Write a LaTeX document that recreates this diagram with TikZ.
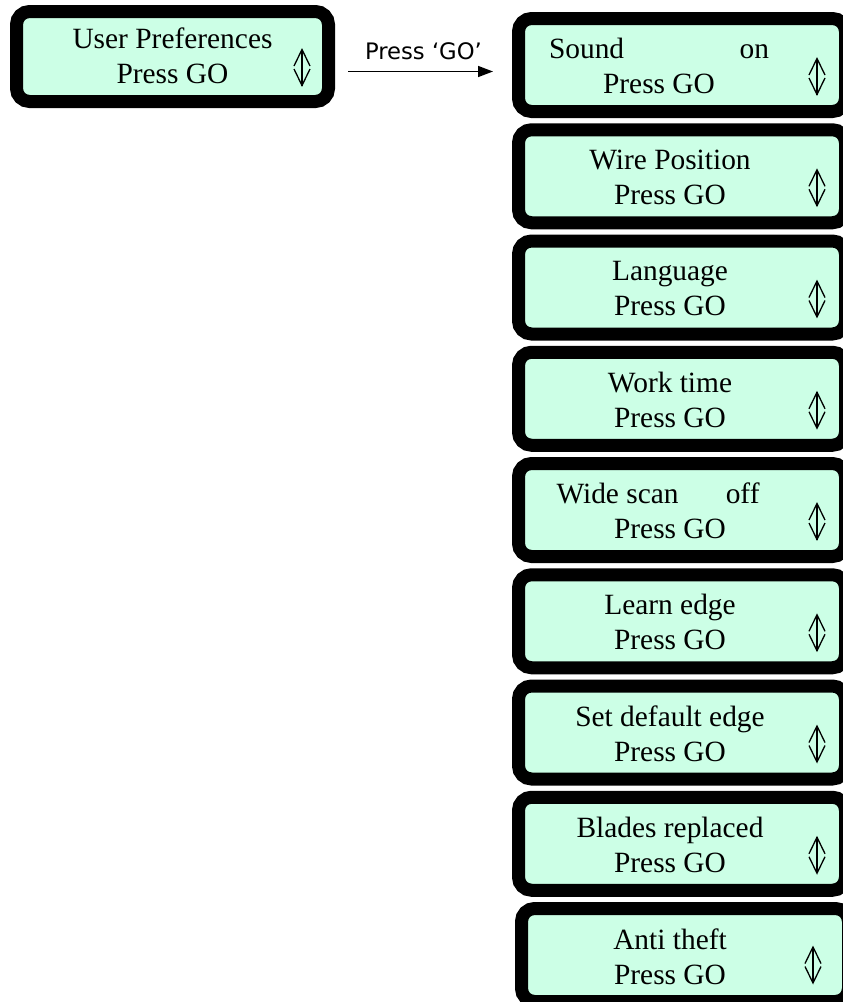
\documentclass[tikz,border=0pt]{standalone}
\usepackage{fontspec}
\setmainfont{Liberation Serif}
\newfontfamily\arrowfont{DejaVu Sans}
\usetikzlibrary{arrows.meta}
\definecolor{lcdgreen}{RGB}{204,255,230}
\tikzset{
  lcd/.style={draw=black, line width=13pt, fill=lcdgreen, rounded corners=13pt,
    minimum width=327pt, minimum height=93pt, inner sep=0pt},
  msg/.style={align=center, inner sep=0pt, font=\fontsize{29.4}{35}\selectfont},
  updown/.pic={
    \draw[line width=1.3pt] (0,-18) -- (0,18);
    \draw[line width=1.3pt] (-8,-1.5) -- (0,-18) -- (8,-1.5);
    \draw[line width=1.3pt] (-8,1.5) -- (0,18) -- (8,1.5);
  }
}
\begin{document}
\begin{tikzpicture}[x=1pt,y=-1pt]
\path[use as bounding box,clip] (0,0) rectangle (843,1002);
% start screen
\node[lcd,minimum width=312pt,minimum height=90pt] (prefs) at (172.5,56.5) {};
\node[msg] (prefstxt) at ([shift={(0,-1)}]prefs.center) {User Preferences\\Press GO};
\pic at ([shift={(129.5,11)}]prefs.center) {updown};
% menu screens
\node[lcd] (sound) at (682,65) {};
\node[lcd] (wire) at (682,176.25) {};
\node[lcd] (lang) at (682,287.5) {};
\node[lcd] (work) at (682,398.75) {};
\node[lcd] (scan) at (682,510) {};
\node[lcd] (learn) at (682,621.25) {};
\node[lcd] (defedge) at (682,732.5) {};
\node[lcd] (blades) at (682,843.75) {};
\node[lcd] (theft) at (685,955) {};
\node[msg] (soundtxt) at ([shift={(-23,1)}]sound.center) {\makebox[220pt]{Sound\hfill on}\\Press GO};
\node[msg] (wiretxt) at ([shift={(-12,1)}]wire.center) {Wire Position\\Press GO};
\node[msg] (langtxt) at ([shift={(-12,1)}]lang.center) {Language\\Press GO};
\node[msg] (worktxt) at ([shift={(-12,1)}]work.center) {Work time\\Press GO};
\node[msg] (scantxt) at ([shift={(-12,1)}]scan.center) {\makebox[227pt][l]{\makebox[203pt]{Wide scan\hfill off}}\\Press GO};
\node[msg] (learntxt) at ([shift={(-12,1)}]learn.center) {Learn edge\\Press GO};
\node[msg] (defedgetxt) at ([shift={(-12,1)}]defedge.center) {Set default edge\\Press GO};
\node[msg] (bladestxt) at ([shift={(-12,1)}]blades.center) {Blades replaced\\Press GO};
\node[msg] (thefttxt) at ([shift={(-15,2)}]theft.center) {Anti theft\\Press GO};
\pic at ([shift={(135,11.5)}]sound.center) {updown};
\pic at ([shift={(135,11.5)}]wire.center) {updown};
\pic at ([shift={(135,11.5)}]lang.center) {updown};
\pic at ([shift={(135,11.5)}]work.center) {updown};
\pic at ([shift={(135,11.5)}]scan.center) {updown};
\pic at ([shift={(135,11.5)}]learn.center) {updown};
\pic at ([shift={(135,11.5)}]defedge.center) {updown};
\pic at ([shift={(135,11.5)}]blades.center) {updown};
\pic at ([shift={(128,10)}]theft.center) {updown};
% GO arrow
\coordinate (gostart) at ([yshift=-15pt]prefs.east);
\draw[line width=1.5pt, -{Triangle[length=15pt,width=11pt]}, shorten <=13pt, shorten >=19pt]
  (gostart) -- (gostart -| sound.west)
  node[midway, above=8pt, font=\arrowfont\fontsize{22.7}{27}\selectfont] (golabel) {Press ‘GO’};
\end{tikzpicture}
\end{document}
